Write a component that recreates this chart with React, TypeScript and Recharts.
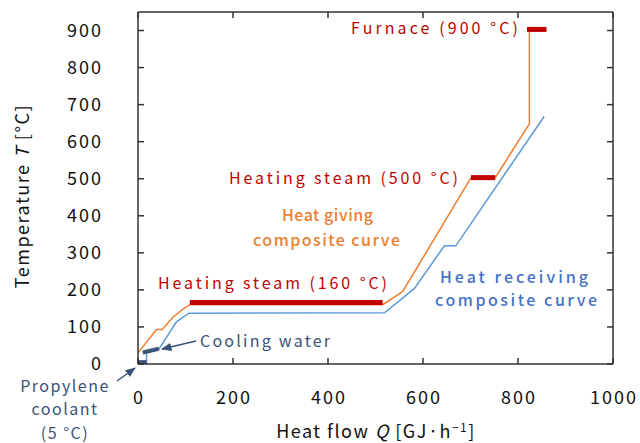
import { LineChart, Line, XAxis, YAxis } from 'recharts';

// composite curves (Q in GJ/h, T in °C)
const givingQ = [0, 39, 51, 74, 95, 109, 515, 557, 701, 752, 824, 824];
const givingT = [30, 93, 93, 127, 148, 160, 160, 195, 503, 503, 648, 900];
const receivingQ = [18, 18, 44, 81, 107, 519, 582, 645, 669, 855];
const receivingT = [0, 30, 40, 114, 137, 138, 204, 319, 319, 668];

// utilities
const steam160Q = [109, 515];
const steam160T = [166, 166];
const steam500Q = [701, 752];
const steam500T = [503, 503];
const furnaceQ = [819, 860];
const furnaceT = [903, 903];
const coolingQ = [10, 44];
const coolingT = [31, 41];
const propyleneQ = [0, 18];
const propyleneT = [5, 5];

const xTicks = [0, 200, 400, 600, 800, 1000];
const yTicks = [0, 100, 200, 300, 400, 500, 600, 700, 800, 900];

const pts = (qs: number[], ts: number[]) => qs.map((Q, i) => ({ Q, T: ts[i] }));

const FONT = '"Noto Sans CJK JP", "Noto Sans", sans-serif';
const AXIS = '#333333';
const ORANGE = '#ED7D31';
const BLUE = '#5B9BD5';
const RED = '#C00000';
const NAVY = '#3A5378';
const TICK_LEN = 6;
const Y_GAP = 35;

// ticks point inward, labels stay outside the frame
const LeftTick = ({ x, y, payload }: any) => (
  <g>
    <line x1={x + Y_GAP} x2={x + Y_GAP + TICK_LEN} y1={y} y2={y} stroke={AXIS} strokeWidth={1.5} />
    <text x={x} y={y} dy={6} textAnchor="end" fontFamily={FONT} fontSize={18} fill="#111" letterSpacing={2}>
      {payload.value}
    </text>
  </g>
);
const BottomTick = ({ x, y, payload }: any) => (
  <g>
    <line x1={x} x2={x} y1={y} y2={y - TICK_LEN} stroke={AXIS} strokeWidth={1.5} />
    <text x={x + 1} y={y + 40} textAnchor="middle" fontFamily={FONT} fontSize={18} fill="#111" letterSpacing={2}>
      {payload.value}
    </text>
  </g>
);
const TopTick = ({ x, y }: any) => (
  <line x1={x} x2={x} y1={y} y2={y + TICK_LEN} stroke={AXIS} strokeWidth={1.5} />
);
const RightTick = ({ x, y }: any) => (
  <line x1={x} x2={x - TICK_LEN} y1={y} y2={y} stroke={AXIS} strokeWidth={1.5} />
);

export default function App() {
  return (
    <div style={{ position: 'absolute', left: 0, top: 0, width: 640, height: 443, background: '#fff' }}>
      <LineChart width={640} height={443} margin={{ top: 2, right: 17, bottom: 39, left: 78 }}>
        <XAxis
          xAxisId="bottom"
          dataKey="Q"
          type="number"
          domain={[0, 1000]}
          ticks={xTicks}
          allowDataOverflow
          height={40}
          stroke={AXIS}
          strokeWidth={1.5}
          tickSize={0}
          tickMargin={0}
          tickLine={false}
          tick={<BottomTick />}
        />
        <XAxis
          xAxisId="top"
          orientation="top"
          dataKey="Q"
          type="number"
          domain={[0, 1000]}
          ticks={xTicks}
          allowDataOverflow
          height={10}
          stroke={AXIS}
          strokeWidth={1.5}
          tickSize={0}
          tickMargin={0}
          tickLine={false}
          tick={<TopTick />}
        />
        <YAxis
          yAxisId="left"
          dataKey="T"
          type="number"
          domain={[0, 950]}
          ticks={yTicks}
          allowDataOverflow
          width={60}
          stroke={AXIS}
          strokeWidth={1.5}
          tickSize={0}
          tickMargin={Y_GAP}
          tickLine={false}
          tick={<LeftTick />}
        />
        <YAxis
          yAxisId="right"
          orientation="right"
          dataKey="T"
          type="number"
          domain={[0, 950]}
          ticks={yTicks}
          allowDataOverflow
          width={10}
          stroke={AXIS}
          strokeWidth={1.5}
          tickSize={0}
          tickMargin={0}
          tickLine={false}
          tick={<RightTick />}
        />

        <Line xAxisId="bottom" yAxisId="left" data={pts(givingQ, givingT)} dataKey="T" type="linear"
          stroke={ORANGE} strokeWidth={1.5} dot={false} isAnimationActive={false} />
        <Line xAxisId="bottom" yAxisId="left" data={pts(receivingQ, receivingT)} dataKey="T" type="linear"
          stroke={BLUE} strokeWidth={1.5} dot={false} isAnimationActive={false} />

        <Line xAxisId="bottom" yAxisId="left" data={pts(steam160Q, steam160T)} dataKey="T"
          stroke={RED} strokeWidth={5} dot={false} isAnimationActive={false} />
        <Line xAxisId="bottom" yAxisId="left" data={pts(steam500Q, steam500T)} dataKey="T"
          stroke={RED} strokeWidth={5} dot={false} isAnimationActive={false} />
        <Line xAxisId="bottom" yAxisId="left" data={pts(furnaceQ, furnaceT)} dataKey="T"
          stroke={RED} strokeWidth={5} dot={false} isAnimationActive={false} />
        <Line xAxisId="bottom" yAxisId="left" data={pts(coolingQ, coolingT)} dataKey="T"
          stroke={NAVY} strokeWidth={4} dot={false} isAnimationActive={false} />
        <Line xAxisId="bottom" yAxisId="left" data={pts(propyleneQ, propyleneT)} dataKey="T"
          stroke={NAVY} strokeWidth={4} dot={false} isAnimationActive={false} />

        {/* invisible copy so the top/right frame axes get drawn */}
        <Line xAxisId="top" yAxisId="right" data={pts(givingQ, givingT)} dataKey="T"
          stroke="none" dot={false} activeDot={false} isAnimationActive={false} />
      </LineChart>

      {/* annotations and axis titles */}
      <svg width={640} height={443} style={{ position: 'absolute', left: 0, top: 0, pointerEvents: 'none' }}
        fontFamily={FONT}>
        <defs>
          <marker id="arr" viewBox="0 0 10 10" refX="9" refY="5" markerWidth="7" markerHeight="7" orient="auto">
            <path d="M0,1 L10,5 L0,9 z" fill={NAVY} />
          </marker>
        </defs>

        <text x={351} y={34} fontSize={16} fill={RED} textLength={167} lengthAdjust="spacing">Furnace (900 °C)</text>
        <text x={229} y={184} fontSize={16} fill={RED} textLength={229} lengthAdjust="spacing">Heating steam (500 °C)</text>
        <text x={158} y={289} fontSize={16} fill={RED} textLength={229} lengthAdjust="spacing">Heating steam (160 °C)</text>

        <text x={282} y={221} fontSize={16} fill={ORANGE} fontWeight={500} textLength={91} lengthAdjust="spacing">Heat giving</text>
        <text x={253} y={246} fontSize={16} fill={ORANGE} fontWeight={500} textLength={147} lengthAdjust="spacing">composite curve</text>

        <text x={440} y={283} fontSize={16} fill="#4472C4" fontWeight={500} textLength={148} lengthAdjust="spacing">Heat receiving</text>
        <text x={435} y={306} fontSize={16} fill="#4472C4" fontWeight={500} textLength={162} lengthAdjust="spacing">composite curve</text>

        <text x={200} y={347} fontSize={16} fill={NAVY} textLength={130} lengthAdjust="spacing">Cooling water</text>
        <line x1={196} y1={341} x2={162} y2={349} stroke={NAVY} strokeWidth={1.5} markerEnd="url(#arr)" />

        <text x={65} y={392} fontSize={16} fill={NAVY} textAnchor="middle" letterSpacing={1.5}>Propylene</text>
        <text x={65} y={415} fontSize={16} fill={NAVY} textAnchor="middle" letterSpacing={1.5}>coolant</text>
        <text x={65} y={439} fontSize={16} fill={NAVY} textAnchor="middle" letterSpacing={1.5}>(5 °C)</text>
        <line x1={117} y1={381} x2={135} y2={368} stroke={NAVY} strokeWidth={1.5} markerEnd="url(#arr)" />

        <text x={376} y={438} fontSize={18} fill="#111" textAnchor="middle" letterSpacing={1.5}>
          Heat flow <tspan fontStyle="italic">Q</tspan> [GJ·h<tspan dy={-6} fontSize={12}>−1</tspan><tspan dy={6}>]</tspan>
        </text>
        <text transform="translate(29,196) rotate(-90)" fontSize={18} fill="#111" textAnchor="middle" letterSpacing={1.5}>
          Temperature <tspan fontStyle="italic">T</tspan> [°C]
        </text>
      </svg>
    </div>
  );
}
